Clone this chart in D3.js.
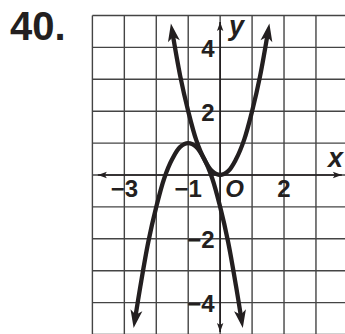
<!DOCTYPE html>
<html>
<head>
<meta charset="utf-8">
<script src="https://cdn.jsdelivr.net/npm/d3@7"></script>
<style>
  html, body { margin: 0; padding: 0; background: #fff; }
  svg { display: block; }
</style>
</head>
<body>
<script>
// Exercise number and axis ticks
const problemLabel = "40.";
const xTickValues = [-3, -1, 2];
const xTickLabels = ["\u22123", "\u22121", "2"];
const yTickValues = [4, 2, -2, -4];
const yTickLabels = ["4", "2", "\u22122", "\u22124"];

// Grid extent in graph units
const gridX = d3.range(-4, 5);
const gridY = d3.range(-5, 6);

// Points along the upward parabola (through the origin)
const upperX = [-1.5, -1.25, -1, -0.75, -0.5, -0.25, 0, 0.25, 0.5, 0.75, 1, 1.25, 1.5];
const upperY = [4.5, 3.1, 2, 1.1, 0.5, 0.12, 0, 0.12, 0.5, 1.1, 2, 3.1, 4.5];

// Points along the downward parabola (vertex at (-1, 1))
const lowerX = [-2.67, -2.5, -2.25, -2, -1.75, -1.5, -1.25, -1, -0.75, -0.5, -0.25, 0, 0.25, 0.5, 0.67];
const lowerY = [-4.55, -3.5, -2.1, -1, -0.1, 0.5, 0.88, 1, 0.88, 0.5, -0.1, -1, -2.1, -3.5, -4.55];

const W = 345, H = 334;
const ink = "#231f20";
const gridColor = "#444";

const svg = d3.select("body").append("svg")
  .attr("width", W).attr("height", H)
  .attr("viewBox", `0 0 ${W} ${H}`);

const x = d3.scaleLinear().domain([-4, 4]).range([92.4, 347.9]);
const y = d3.scaleLinear().domain([5, -5]).range([15.5, 334.5]);

const defs = svg.append("defs");

// Barbed arrowhead for the curves: tip sits ahead of the path end
defs.append("marker")
  .attr("id", "curveArrow")
  .attr("markerUnits", "userSpaceOnUse")
  .attr("viewBox", "-12 -7 22 14")
  .attr("markerWidth", 22).attr("markerHeight", 14)
  .attr("refX", 0).attr("refY", 0)
  .attr("orient", "auto-start-reverse")
  .style("overflow", "visible")
  .append("path")
  .attr("d", "M8,0 L-10,-6 L-5.5,0 L-10,6 Z")
  .attr("fill", ink);

// Small arrowhead for the axes
defs.append("marker")
  .attr("id", "axisArrow")
  .attr("markerUnits", "userSpaceOnUse")
  .attr("viewBox", "-10 -5 12 10")
  .attr("markerWidth", 12).attr("markerHeight", 10)
  .attr("refX", 0).attr("refY", 0)
  .attr("orient", "auto-start-reverse")
  .style("overflow", "visible")
  .append("path")
  .attr("d", "M0,0 L-9,-3.2 L-7,0 L-9,3.2 Z")
  .attr("fill", ink);

// Grid
const grid = svg.append("g").attr("stroke", gridColor).attr("stroke-width", 1.4);
grid.selectAll("line.v").data(gridX).join("line")
  .attr("class", "v")
  .attr("x1", d => x(d)).attr("x2", d => x(d))
  .attr("y1", y(5)).attr("y2", y(-5));
grid.selectAll("line.h").data(gridY).join("line")
  .attr("class", "h")
  .attr("x1", x(-4)).attr("x2", x(4))
  .attr("y1", d => y(d)).attr("y2", d => y(d));

// Axes with arrowheads at both ends
const axes = svg.append("g").attr("stroke", ink).attr("stroke-width", 1.7);
axes.append("line")
  .attr("x1", x(-3.83)).attr("x2", x(3.81))
  .attr("y1", y(0)).attr("y2", y(0))
  .attr("marker-start", "url(#axisArrow)")
  .attr("marker-end", "url(#axisArrow)");
axes.append("line")
  .attr("x1", x(0)).attr("x2", x(0))
  .attr("y1", y(4.8)).attr("y2", y(-4.92))
  .attr("marker-start", "url(#axisArrow)")
  .attr("marker-end", "url(#axisArrow)");

// Curves
const line = d3.line()
  .x(d => x(d[0])).y(d => y(d[1]))
  .curve(d3.curveCatmullRom.alpha(0.5));

const curves = [
  d3.zip(upperX, upperY),
  d3.zip(lowerX, lowerY)
];
svg.append("g").selectAll("path").data(curves).join("path")
  .attr("d", line)
  .attr("fill", "none")
  .attr("stroke", ink)
  .attr("stroke-width", 4.3)
  .attr("stroke-linejoin", "round")
  .attr("marker-start", "url(#curveArrow)")
  .attr("marker-end", "url(#curveArrow)");

// Tick labels
const font = "'Liberation Sans', Arial, Helvetica, sans-serif";
const labels = svg.append("g")
  .attr("font-family", font).attr("font-weight", "bold")
  .attr("font-size", 24).attr("fill", ink);

labels.selectAll("text.xt").data(xTickValues).join("text")
  .attr("class", "xt")
  .attr("x", d => x(d)).attr("y", y(0) + 22)
  .attr("text-anchor", "middle")
  .text((d, i) => xTickLabels[i]);

labels.selectAll("text.yt").data(yTickValues).join("text")
  .attr("class", "yt")
  .attr("x", x(0) - 5.5).attr("y", d => y(d) + 9.5)
  .attr("text-anchor", "end")
  .text((d, i) => yTickLabels[i]);

// Origin and axis names
labels.append("text")
  .attr("x", x(0) + 5).attr("y", y(0) + 22)
  .attr("font-style", "italic")
  .text("O");

labels.append("text")
  .attr("x", 328).attr("y", 167)
  .attr("font-style", "italic").attr("font-size", 27)
  .text("x");

labels.append("text")
  .attr("x", 229).attr("y", 35)
  .attr("font-style", "italic").attr("font-size", 27)
  .text("y");

// Exercise number
svg.append("text")
  .attr("x", 10).attr("y", 40)
  .attr("font-family", font).attr("font-weight", "bold")
  .attr("font-size", 40).attr("fill", ink)
  .text(problemLabel);
</script>
</body>
</html>
